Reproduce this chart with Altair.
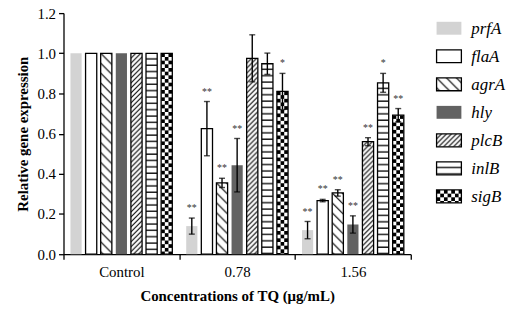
import base64
import altair as alt
import pandas as pd

# ---------------- data ----------------
genes = ["prfA", "flaA", "agrA", "hly", "plcB", "inlB", "sigB"]
groups = ["Control", "0.78", "1.56"]

control_vals = [1.0, 1.0, 1.0, 1.0, 1.0, 1.0, 1.0]
tq078_vals = [0.14, 0.625, 0.355, 0.443, 0.975, 0.948, 0.81]
tq156_vals = [0.12, 0.267, 0.305, 0.148, 0.56, 0.853, 0.692]

control_err = [0, 0, 0, 0, 0, 0, 0]
tq078_err = [0.04, 0.135, 0.023, 0.133, 0.117, 0.053, 0.09]
tq156_err = [0.043, 0.006, 0.016, 0.043, 0.02, 0.047, 0.033]

control_sig = ["", "", "", "", "", "", ""]
tq078_sig = ["**", "**", "**", "**", "", "", "*"]
tq156_sig = ["**", "**", "**", "**", "**", "*", "**"]

y_ticks = [0.0, 0.2, 0.4, 0.6, 0.8, 1.0, 1.2]

# ---------------- styles ----------------
FONT = "Liberation Serif"
fill_colors = {"prfA": "#d3d3d3", "flaA": "#ffffff", "agrA": "#ffffff",
               "hly": "#626262", "plcB": "#ffffff", "inlB": "#ffffff",
               "sigB": "#ffffff"}
outlined = {"prfA": False, "flaA": True, "agrA": True, "hly": False,
            "plcB": True, "inlB": True, "sigB": True}


def pattern_uri(tw, th, body):
    svg = ('<svg xmlns="http://www.w3.org/2000/svg" width="100%" height="100%">'
           f'<defs><pattern id="p" x="0" y="0" width="{tw}" height="{th}" '
           f'patternUnits="userSpaceOnUse">{body}</pattern></defs>'
           '<rect x="0" y="0" width="100%" height="100%" fill="url(#p)"/></svg>')
    return "data:image/svg+xml;base64," + base64.b64encode(svg.encode()).decode()


patterns = {
    "prfA": "", "flaA": "", "hly": "",
    "agrA": pattern_uri(10, 10, '<path d="M-2,-2L12,12M-2,8L2,12M8,-2L12,2" '
                                'stroke="#000" stroke-width="1.2" fill="none"/>'),
    "plcB": pattern_uri(5, 5, '<path d="M-1,6L6,-1M-2,2L2,-2M3,7L7,3" '
                              'stroke="#000" stroke-width="1.1" fill="none"/>'),
    "inlB": pattern_uri(10, 6.4, '<rect x="0" y="5" width="10" height="1.3" fill="#000"/>'),
    "sigB": pattern_uri(7.4, 7.4, '<rect x="0" y="0" width="3.7" height="3.7" fill="#000"/>'
                                  '<rect x="3.7" y="3.7" width="3.7" height="3.7" fill="#000"/>'),
}

rows = []
for grp, vals, errs, sigs in [("Control", control_vals, control_err, control_sig),
                              ("0.78", tq078_vals, tq078_err, tq078_sig),
                              ("1.56", tq156_vals, tq156_err, tq156_sig)]:
    for g, v, e, s in zip(genes, vals, errs, sigs):
        rows.append({"group": grp, "gene": g, "value": v, "err": e,
                     "lo": v - e, "hi": v + e, "sig": s,
                     "fill": fill_colors[g], "pattern": patterns[g],
                     "outlined": outlined[g]})
df = pd.DataFrame(rows)

x_enc = alt.X("group:N", sort=groups,
              scale=alt.Scale(paddingInner=0, paddingOuter=0),
              axis=alt.Axis(title="Concentrations of TQ (μg/mL)", labelAngle=0,
                            tickBand="extent", tickSize=5, labelPadding=5,
                            titlePadding=10))
xo_enc = alt.XOffset("gene:N", sort=genes,
                     scale=alt.Scale(paddingInner=0.26, paddingOuter=0.46))
y_scale = alt.Scale(domain=[0, 1.2], nice=False)
y_enc = alt.Y("value:Q", scale=y_scale, stack=None,
              axis=alt.Axis(values=y_ticks, format=".1f",
                            title="Relative gene expression", grid=False,
                            tickSize=5, labelPadding=3, titlePadding=7))

base = alt.Chart(df)

bars = base.mark_bar().encode(
    x=x_enc, xOffset=xo_enc, y=y_enc,
    fill=alt.Fill("fill:N", scale=None))

hatch = base.transform_filter("datum.pattern != ''").mark_image(aspect=False).encode(
    x=x_enc, xOffset=xo_enc, y=y_enc, y2=alt.Y2Datum(0), url="pattern:N")

outline = base.transform_filter("datum.outlined").mark_bar(
    fill="#ffffff", fillOpacity=0, stroke="#000000", strokeWidth=1.3).encode(
    x=x_enc, xOffset=xo_enc, y=y_enc)

err_base = base.transform_filter("datum.err > 0")
err_rule = err_base.mark_rule(color="#000000", strokeWidth=1.4).encode(
    x=x_enc, xOffset=xo_enc,
    y=alt.Y("lo:Q", scale=y_scale), y2="hi:Q")
cap_lo = err_base.mark_tick(color="#000000", orient="horizontal", size=6,
                            thickness=1.4).encode(
    x=x_enc, xOffset=xo_enc, y=alt.Y("lo:Q", scale=y_scale))
cap_hi = err_base.mark_tick(color="#000000", orient="horizontal", size=6,
                            thickness=1.4).encode(
    x=x_enc, xOffset=xo_enc, y=alt.Y("hi:Q", scale=y_scale))

stars = base.transform_filter("datum.sig != ''").mark_text(
    font=FONT, fontSize=10, color="#333333", baseline="alphabetic", dy=-7).encode(
    x=x_enc, xOffset=xo_enc, y=alt.Y("hi:Q", scale=y_scale), text="sig:N")

main = alt.layer(bars, hatch, outline, err_rule, cap_lo, cap_hi, stars).properties(
    width=350, height=243)

# ---------------- legend panel ----------------
leg_df = pd.DataFrame({"gene": genes,
                       "fill": [fill_colors[g] for g in genes],
                       "pattern": [patterns[g] for g in genes],
                       "outlined": [outlined[g] for g in genes]})
ly = alt.Y("gene:N", sort=genes, axis=None,
           scale=alt.Scale(paddingInner=0, paddingOuter=0.04))
lbase = alt.Chart(leg_df)
leg_fill = lbase.mark_bar(height=13).encode(
    y=ly, x=alt.value(0), x2=alt.value(25), fill=alt.Fill("fill:N", scale=None))
leg_hatch = lbase.transform_filter("datum.pattern != ''").mark_image(
    aspect=False, height=13).encode(
    y=ly, x=alt.value(0), x2=alt.value(25), url="pattern:N")
leg_out = lbase.transform_filter("datum.outlined").mark_bar(
    height=13, fill="#ffffff", fillOpacity=0, stroke="#000000", strokeWidth=1.3).encode(
    y=ly, x=alt.value(0), x2=alt.value(25))
leg_text = lbase.mark_text(font=FONT, fontSize=17, fontStyle="italic",
                           align="left", baseline="middle", dy=1,
                           color="#000000").encode(
    y=ly, x=alt.value(35), text="gene:N")
legend = alt.layer(leg_fill, leg_hatch, leg_out, leg_text).properties(
    width=68, height=200)

chart = alt.hconcat(main, legend, spacing=24).properties(
    padding={"left": 15, "top": 5, "right": 5, "bottom": 5},
    background="#ffffff"
).configure_view(stroke=None).configure_axis(
    labelFont=FONT, labelFontSize=15, labelColor="#000000",
    titleFont=FONT, titleFontSize=15, titleFontWeight="bold", titleColor="#000000",
    domainColor="#000000", tickColor="#000000", domainWidth=1.3, tickWidth=1.3
)

chart.save("out.html", embed_options={"renderer": "svg", "actions": False})
